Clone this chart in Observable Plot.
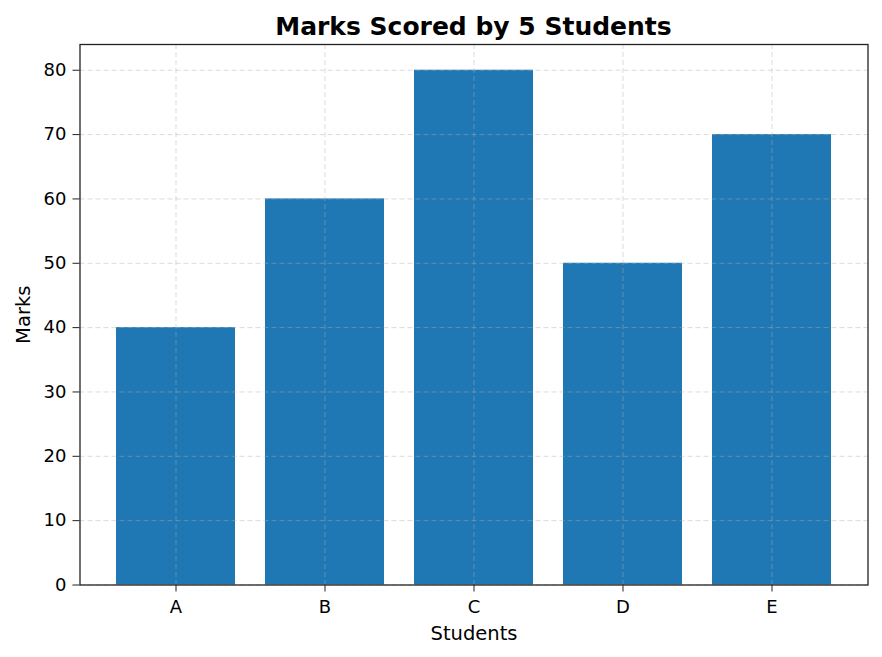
<!DOCTYPE html>
<html>
<head>
<meta charset="utf-8">
<script src="https://cdn.jsdelivr.net/npm/d3@7"></script>
<script src="https://cdn.jsdelivr.net/npm/@observablehq/plot@0.6"></script>
<style>
  html, body { margin: 0; padding: 0; background: #fff; }
  body { width: 882px; height: 657px; overflow: hidden; font-family: "DejaVu Sans", sans-serif; }
  #title { height: 40px; box-sizing: border-box; padding: 13.5px 14.5px 0 79.5px; text-align: center;
           font-weight: bold; font-size: 25px; line-height: 25px; color: #000; white-space: nowrap; }
  #chart svg { display: block; }
</style>
</head>
<body>
<div id="title">Marks Scored by 5 Students</div>
<div id="chart"></div>
<script>
const students = ["A", "B", "C", "D", "E"];
const marks = [40, 60, 80, 50, 70];
const yTicks = [0, 10, 20, 30, 40, 50, 60, 70, 80];
const yMax = 84;

const data = students.map((s, i) => ({student: s, mark: marks[i]}));

const gridStyle = {stroke: "#b0b0b0", strokeOpacity: 0.45, strokeWidth: 1, strokeDasharray: "5,3"};

const chart = Plot.plot({
  width: 882,
  height: 617,
  marginTop: 4,
  marginBottom: 72.5,
  marginLeft: 79.5,
  marginRight: 14.5,
  style: {fontFamily: "DejaVu Sans, sans-serif", color: "#000", background: "#fff"},
  x: {type: "band", domain: students, paddingInner: 0.2, paddingOuter: 0.24, align: 0.5},
  y: {domain: [0, yMax]},
  marks: [
    Plot.barY(data, {x: "student", y: "mark", fill: "#1f77b4"}),
    Plot.gridY(yTicks, gridStyle),
    Plot.gridX(students, gridStyle),
    Plot.frame({stroke: "#222", strokeWidth: 1.3}),
    Plot.axisY(yTicks, {anchor: "left", tickSize: 7, tickPadding: 6.5, fontSize: 18, stroke: "#222",
      label: "Marks", labelAnchor: "center", labelArrow: "none", labelOffset: 64}),
    Plot.axisX(students, {anchor: "bottom", tickSize: 7, tickPadding: 8.5, fontSize: 18, stroke: "#222",
      label: "Students", labelAnchor: "center", labelArrow: "none", labelOffset: 55})
  ]
});
chart.querySelectorAll("g[aria-label='y-axis label'] text, g[aria-label='x-axis label'] text").forEach(t => t.setAttribute("font-size", 19.5));
document.getElementById("chart").appendChild(chart);
</script>
</body>
</html>
